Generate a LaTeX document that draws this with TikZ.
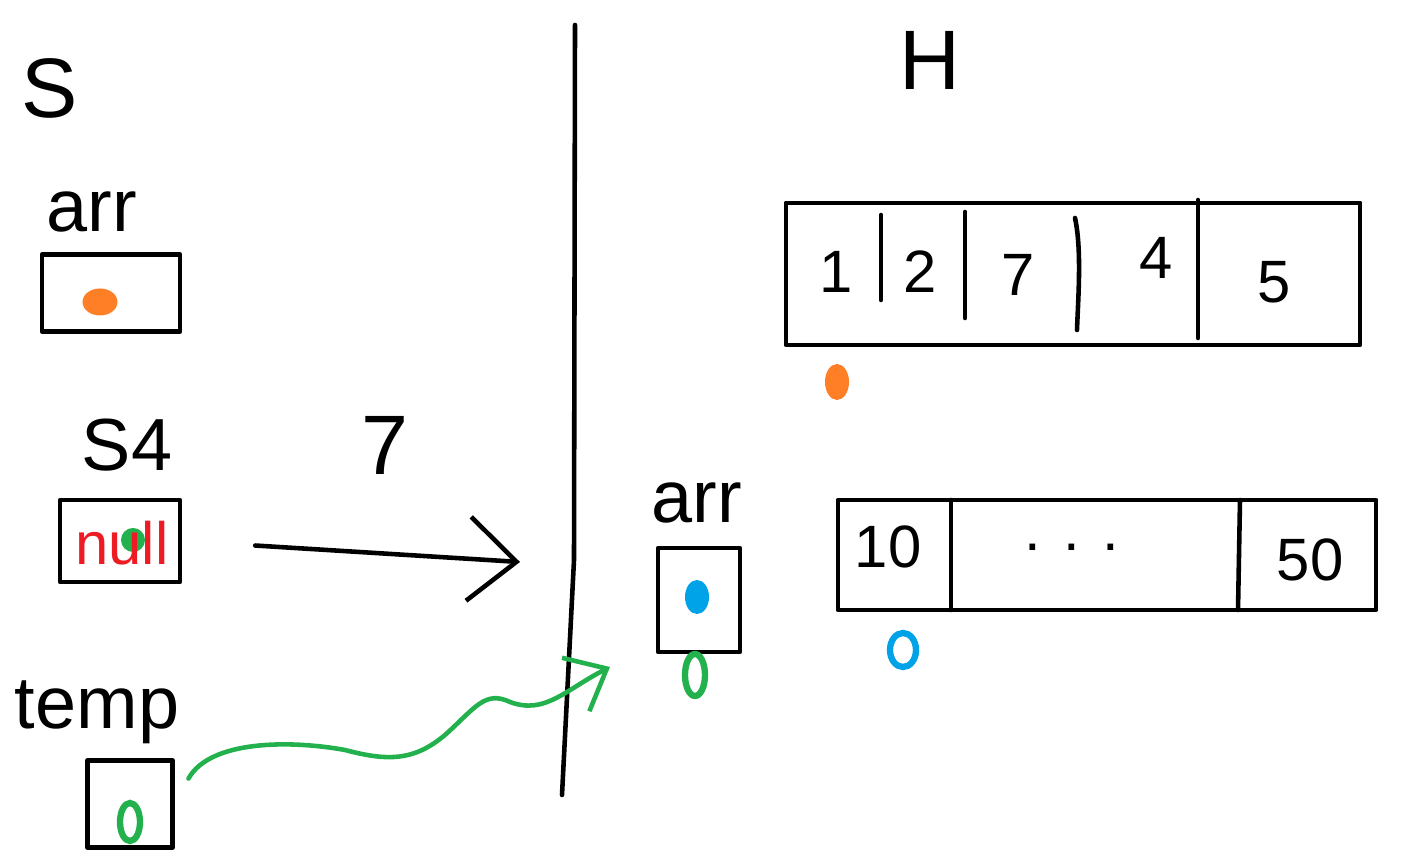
\documentclass[tikz,border=0pt]{standalone}
\usepackage{fontspec}
\setmainfont{Liberation Sans}
\usetikzlibrary{shapes.geometric,arrows.meta,positioning}

\definecolor{paintorange}{RGB}{255,127,39}
\definecolor{paintblue}{RGB}{0,162,232}
\definecolor{paintgreen}{RGB}{34,177,76}
\definecolor{paintred}{RGB}{237,28,36}

\tikzset{
    ink/.style={line width=1.3pt, line cap=round, line join=round},
    box/.style={draw, ink, inner sep=0pt},
    big/.style={font=\fontsize{24}{24}\selectfont},
    mid/.style={font=\fontsize{21}{21}\selectfont},
    num/.style={font=\fontsize{17}{17}\selectfont},
    blob/.style={ellipse, inner sep=0pt},
    ring/.style={ellipse, draw, line width=1.8pt, inner sep=0pt},
}

\begin{document}
\begin{tikzpicture}[x=0.01cm,y=-0.01cm]
    \useasboundingbox (0,0) rectangle (1424,862);

    % Stack side
    \node[big] (stack) at (50,88) {S};

    \node[mid] (arrlbl) at (92,212) {arr};
    \node[box, minimum width=1.38cm, minimum height=0.77cm] (arrbox) at (111,293) {};
    \node[blob, fill=paintorange, minimum width=0.35cm, minimum height=0.27cm] (arrref) at (100,302) {};

    \node[mid] (s4lbl) at (127,445) {S4};
    \node[box, minimum width=1.2cm, minimum height=0.82cm] (s4box) at (120,541) {};
    \node[circle, fill=paintgreen, minimum size=0.24cm, inner sep=0pt] (s4ref) at (133,540) {};
    \node[num, text=paintred] (s4null) at (122,543) {null};

    \node[mid] (templbl) at (97,712) {temp};
    \node[box, minimum width=0.85cm, minimum height=0.87cm] (tempbox) at (130,804) {};
    \node[ring, draw=paintgreen, minimum width=0.2cm, minimum height=0.38cm] (tempref) at (130,822) {};

    % Arrow into the heap
    \coordinate (gate) at (520,562);
    \draw[ink, shorten <=0.73cm, -{Straight Barb[length=0.48cm, width=0.84cm, line width=1.3pt]}] (s4box.east) -- (gate);
    \node[big] (count) at (385,445) {7};

    % Divider between stack and heap
    \draw[ink] (575,25) -- (574,560) -- (562,795);

    % Heap side
    \node[big] (heap) at (930,60) {H};

    \node[mid] (harrlbl) at (697,503) {arr};
    \node[box, minimum width=0.82cm, minimum height=1.04cm] (harrbox) at (699,600) {};
    \node[blob, fill=paintblue, minimum width=0.24cm, minimum height=0.34cm] (harrref) at (697,597) {};
    \node[ring, draw=paintgreen, minimum width=0.2cm, minimum height=0.42cm] (harrtag) at (695,675) {};

    % Array 1..5
    \node[box, minimum width=5.74cm, minimum height=1.42cm] (arr5) at (1073,274) {};
    \draw[ink] (881,215) -- (881,300);
    \draw[ink] (965,212) -- (965,318);
    \draw[ink] (1075,218) .. controls (1082,250) and (1078,300) .. (1077,330);
    \draw[ink] (1198,200) -- (1198,338);
    \node[num] (e1) at (836,272) {1};
    \node[num] (e2) at (920,272) {2};
    \node[num] (e3) at (1018,275) {7};
    \node[num] (e4) at (1156,258) {4};
    \node[num] (e5) at (1274,282) {5};
    \node[blob, fill=paintorange, minimum width=0.24cm, minimum height=0.36cm] (arr5tag) at (837,382) {};

    % Array 10..50
    \node[box, minimum width=5.38cm, minimum height=1.1cm] (arr50) at (1107,555) {};
    \draw[ink] (951,500) -- (951,610);
    \draw[ink] (1240,500) -- (1238,610);
    \node[num] (f1) at (888,547) {10};
    \node[num] (f2) at (1072,547) {. . .};
    \node[num] (f3) at (1310,560) {50};
    \node[ring, draw=paintblue, minimum width=0.26cm, minimum height=0.34cm] (arr50tag) at (903,650) {};

    % temp points into the heap
    \coordinate (hit) at (610,667);
    \draw[ink, paintgreen, shorten <=0.28cm, -{Straight Barb[length=0.35cm, width=0.6cm, line width=1.3pt]}]
        (tempbox.east |- 0,803) .. controls (210,740) and (290,740) .. (345,750)
        .. controls (390,762) and (415,760) .. (445,735)
        .. controls (475,708) and (485,690) .. (510,702)
        .. controls (545,715) and (565,690) .. (hit);
\end{tikzpicture}
\end{document}
